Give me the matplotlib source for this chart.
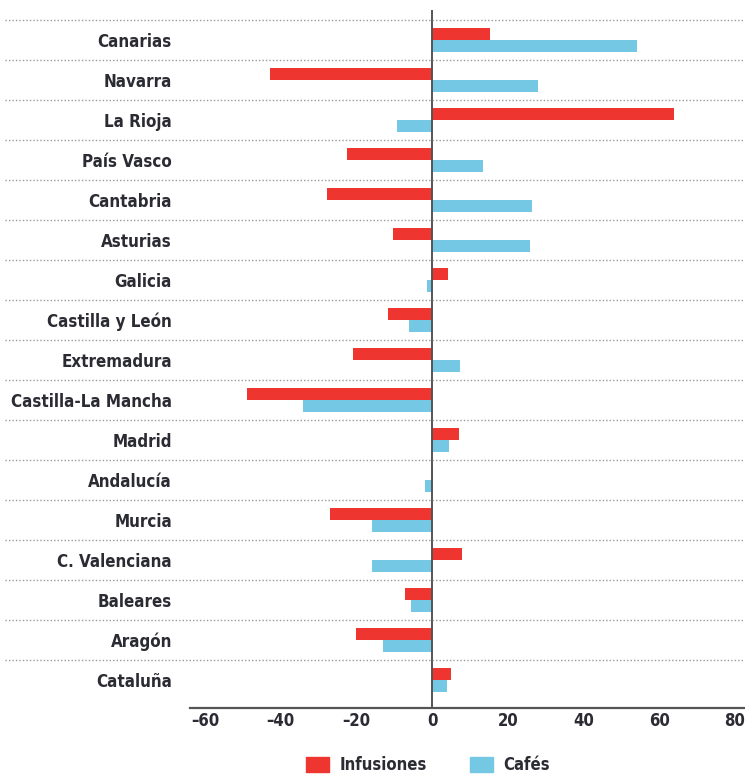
import matplotlib
matplotlib.use('Agg')
import matplotlib.pyplot as plt
import matplotlib.transforms as mtransforms
from matplotlib.lines import Line2D
from matplotlib.patches import Patch
import numpy as np

regiones = ['Canarias', 'Navarra', 'La Rioja', 'País Vasco', 'Cantabria',
            'Asturias', 'Galicia', 'Castilla y León', 'Extremadura',
            'Castilla-La Mancha', 'Madrid', 'Andalucía', 'Murcia',
            'C. Valenciana', 'Baleares', 'Aragón', 'Cataluña']
infusiones = [15.3, -42.8, 63.9, -22.5, -27.7, -10.3, 4.2, -11.6, -21.0,
              -48.9, 7.0, 0.2, -27.0, 8.0, -7.2, -20.0, 5.0]
cafes = [54.1, 28.0, -9.3, 13.5, 26.4, 26.0, -1.3, -6.0, 7.4,
         -34.0, 4.4, -1.8, -16.0, -16.0, -5.6, -13.0, 4.0]
ticks = [-60, -40, -20, 0, 20, 40, 60, 80]

rojo = '#ee3530'
azul = '#75c8e4'
texto = '#2b2b33'
fuente = dict(family='DejaVu Sans', stretch='condensed', weight='bold')

fig = plt.figure(figsize=(7.45, 7.74), dpi=100)
ax = fig.add_axes([190 / 745, 66 / 774, 555 / 745, 698 / 774])

y = np.arange(len(regiones))
h = 0.3
ax.barh(y - h / 2, infusiones, height=h, color=rojo, label='Infusiones', zorder=2)
ax.barh(y + h / 2, cafes, height=h, color=azul, label='Cafés', zorder=2)

ax.set_xlim(-64, 82.7)
ax.set_ylim(16.7, -0.75)
ax.axvline(0, color='#555555', lw=1.4, zorder=3)

# separadores punteados a todo el ancho
trans = mtransforms.blended_transform_factory(fig.transFigure, ax.transData)
for b in np.arange(len(regiones)) - 0.5:
    fig.add_artist(Line2D([5 / 745, 1.0], [b, b], transform=trans,
                          color='#9a9a9a', lw=1.0, ls=(0, (1, 1.5))))

for s in ['top', 'right', 'left']:
    ax.spines[s].set_visible(False)
ax.spines['bottom'].set_color('#555555')
ax.spines['bottom'].set_linewidth(1.6)

ax.set_xticks(ticks)
ax.set_xticklabels([str(t).replace('-', '–') for t in ticks],
                   fontsize=12, color=texto, **fuente)
ax.tick_params(axis='x', length=0, pad=3)
ax.set_yticks([])

for yi, nombre in zip(y, regiones):
    ax.text(172 / 745, yi + 0.04, nombre, transform=trans, ha='right', va='center',
            fontsize=12.2, color=texto, **fuente)

handles = [Patch(color=rojo, label='Infusiones'), Patch(color=azul, label='Cafés')]
leg = fig.legend(handles=handles, loc='center', bbox_to_anchor=(428 / 745, 1 - 765 / 774),
                 ncol=2, frameon=False, handlelength=1.4, handleheight=1.0,
                 columnspacing=2.6, handletextpad=0.6,
                 prop=dict(size=12, **fuente))
for t in leg.get_texts():
    t.set_color(texto)

fig.savefig('out.png', dpi=100)
